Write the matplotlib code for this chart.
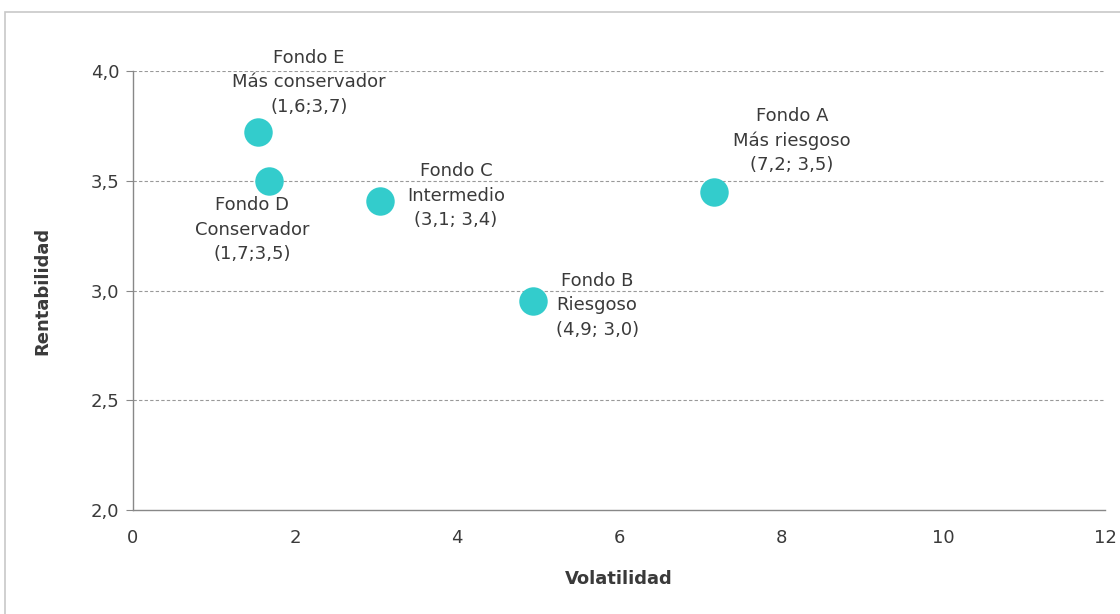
import matplotlib
matplotlib.use("Agg")
import matplotlib.pyplot as plt
from matplotlib.patches import Rectangle

plt.rcParams['font.family'] = ['DejaVu Sans']

names = ["Fondo A", "Fondo B", "Fondo C", "Fondo D", "Fondo E"]
descs = ["Más riesgoso", "Riesgoso", "Intermedio", "Conservador", "Más conservador"]
coords = ["(7,2; 3,5)", "(4,9; 3,0)", "(3,1; 3,4)", "(1,7;3,5)", "(1,6;3,7)"]
volatilidad = [7.17, 4.94, 3.05, 1.68, 1.54]
rentabilidad = [3.45, 2.95, 3.41, 3.50, 3.72]
offsets = [(78, 51), (64, -4), (76, 5), (-17, -49), (51, 50)]

xticks = [0, 2, 4, 6, 8, 10, 12]
yticks = [2.0, 2.5, 3.0, 3.5, 4.0]
ytick_labels = ["2,0", "2,5", "3,0", "3,5", "4,0"]

fig = plt.figure(figsize=(11.2, 6.14), dpi=100)
fig.patches.append(Rectangle((5/1120, -0.1), 1.2, 1 - 12/614 + 0.1, transform=fig.transFigure,
                             fill=False, edgecolor='#c8c8c8', linewidth=1.2))
ax = fig.add_axes([133/1120, 1 - 510/614, (1105 - 133)/1120, (510 - 71)/614])

ax.set_xlim(0, 12)
ax.set_ylim(2.0, 4.0)
for y in yticks[1:]:
    ax.axhline(y, color='#999999', linestyle=(0, (3, 2)), linewidth=0.8, zorder=1)

ax.scatter(volatilidad, rentabilidad, s=420, color='#33cccc', zorder=3, linewidths=0)

tc = '#3a3a3a'
for x, y, n, d, c, off in zip(volatilidad, rentabilidad, names, descs, coords, offsets):
    ax.annotate(f"{n}\n{d}\n{c}", (x, y), xytext=off, textcoords='offset pixels',
                ha='center', va='center', fontsize=13, color=tc, linespacing=1.45)

ax.set_xticks(xticks)
ax.set_xticklabels([str(t) for t in xticks])
ax.set_yticks(yticks)
ax.set_yticklabels(ytick_labels)
ax.tick_params(axis='x', length=0, pad=14, labelsize=13, labelcolor=tc)
ax.tick_params(axis='y', length=5, width=0.8, color='#888888', pad=5, labelsize=13, labelcolor=tc)

for s in ['top', 'right']:
    ax.spines[s].set_visible(False)
for s in ['left', 'bottom']:
    ax.spines[s].set_color('#888888')
    ax.spines[s].set_linewidth(1.0)

ax.set_xlabel("Volatilidad", fontsize=13, fontweight='bold', color=tc, labelpad=16)
ax.set_ylabel("Rentabilidad", fontsize=13, fontweight='bold', color=tc, labelpad=28)

fig.savefig("out.png", dpi=100)
